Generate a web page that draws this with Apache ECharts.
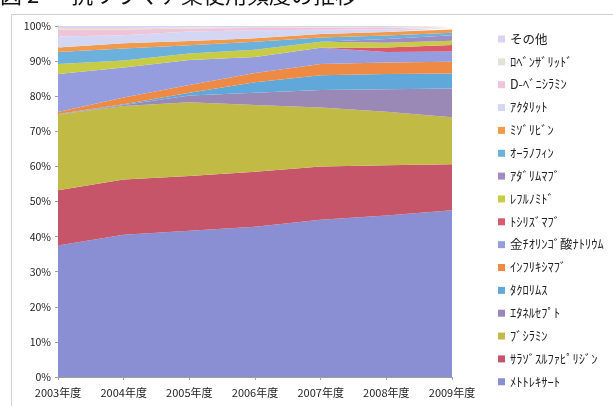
<!DOCTYPE html>
<html>
<head>
<meta charset="utf-8">
<script src="https://cdn.jsdelivr.net/npm/echarts@6/dist/echarts.min.js"></script>
<style>
html,body{margin:0;padding:0;background:#fff;}
#main{width:613px;height:406px;}
</style>
</head>
<body>
<div id="main"></div>
<script>
// Categories (fiscal years)
var years = ['2003年度','2004年度','2005年度','2006年度','2007年度','2008年度','2009年度'];

// Series names, stacked bottom -> top
var seriesNames = ['ﾒﾄﾄﾚｷｻｰﾄ','ｻﾗｿﾞｽﾙﾌｧﾋﾟﾘｼﾞﾝ','ﾌﾞｼﾗﾐﾝ','ｴﾀﾈﾙｾﾌﾟﾄ','ﾀｸﾛﾘﾑｽ','ｲﾝﾌﾘｷｼﾏﾌﾞ',
  '金ﾁｵﾘﾝｺﾞ酸ﾅﾄﾘｳﾑ','ﾄｼﾘｽﾞﾏﾌﾞ','ﾚﾌﾙﾉﾐﾄﾞ','ｱﾀﾞﾘﾑﾏﾌﾞ','ｵｰﾗﾉﾌｨﾝ','ﾐｿﾞﾘﾋﾞﾝ','ｱｸﾀﾘｯﾄ',
  'D-ﾍﾞﾆｼﾗﾐﾝ','ﾛﾍﾞﾝｻﾞﾘｯﾄﾞ','その他'];

// Share of use (%) per year
var mtx   = [37.5, 40.5, 41.7, 42.8, 44.8, 46.0, 47.5];
var sasp  = [15.7, 15.8, 15.6, 15.7, 15.2, 14.3, 13.1];
var buc   = [21.6, 20.9, 21.0, 19.0, 16.8, 15.3, 13.4];
var etn   = [0.0, 0.3, 1.9, 3.5, 5.0, 6.4, 8.2];
var tac   = [0.1, 0.2, 0.8, 3.0, 4.2, 4.3, 4.3];
var ifx   = [0.6, 1.9, 2.2, 2.6, 3.2, 3.3, 3.3];
var gst   = [10.8, 8.6, 7.1, 4.6, 4.6, 3.0, 2.9];
var tcz   = [0.0, 0.0, 0.0, 0.0, 0.0, 1.3, 1.9];
var lef   = [2.9, 2.0, 1.9, 2.0, 1.7, 1.3, 1.2];
var ada   = [0.0, 0.0, 0.0, 0.0, 0.0, 1.1, 1.6];
var aur   = [3.4, 3.4, 2.3, 2.3, 1.2, 1.0, 0.7];
var mzr   = [1.3, 1.5, 1.2, 1.0, 1.0, 1.0, 0.9];
var act   = [3.1, 2.3, 2.7, 2.3, 1.2, 0.7, 0.4];
var dpen  = [2.0, 1.6, 0.9, 0.6, 0.6, 0.5, 0.3];
var lob   = [0.4, 0.4, 0.3, 0.3, 0.2, 0.2, 0.1];
var other = [0.6, 0.6, 0.4, 0.3, 0.3, 0.3, 0.2];

var seriesData = [mtx, sasp, buc, etn, tac, ifx, gst, tcz, lef, ada, aur, mzr, act, dpen, lob, other];

var colors = ['#8a8fd3','#c7556a','#c1bb45','#9a88b6','#5fa8d9','#ef8a45',
  '#959ddf','#d85a6c','#c8cc44','#a08cc2','#6cb0de','#f29a4c','#d3d7f3',
  '#f0c4d8','#e2e1d6','#dcd3f1'];

var chart = echarts.init(document.getElementById('main'), null, {renderer:'canvas'});

var series = seriesNames.map(function(n, i){
  return {
    name: n,
    type: 'line',
    stack: 'total',
    data: seriesData[i],
    symbol: 'none',
    lineStyle: {width: 0},
    areaStyle: {opacity: 1, color: colors[i]},
    itemStyle: {color: colors[i]},
    emphasis: {disabled: true},
    animation: false
  };
});

var option = {
  animation: false,
  color: colors,
  textStyle: {fontFamily: '"Noto Sans CJK JP", "Noto Sans", sans-serif'},
  grid: {left: 58, right: 161, top: 26, bottom: 29, containLabel: false},
  graphic: [
    {type: 'rect', shape: {x: 11.5, y: 14.5, width: 620, height: 420},
     style: {fill: 'none', stroke: '#cfcfcf', lineWidth: 1}, silent: true},
    {type: 'text', left: 0, top: -16,
     style: {text: '図 2 ― 抗リウマチ薬使用頻度の推移', fill: '#111',
       font: '22px "Noto Sans CJK JP", sans-serif'}}
  ],
  legend: {
    orient: 'vertical',
    left: 493,
    top: 26,
    icon: 'rect',
    itemWidth: 7,
    itemHeight: 7,
    itemGap: 6.85,
    data: seriesNames.slice().reverse(),
    textStyle: {fontSize: 12.5, color: '#222', lineHeight: 16,
      fontFamily: '"Noto Sans CJK JP", sans-serif'}
  },
  xAxis: {
    type: 'category',
    data: years,
    boundaryGap: false,
    axisLine: {show: true, lineStyle: {color: '#a0a0a0'}},
    axisTick: {show: true, length: 3, lineStyle: {color: '#a0a0a0'}},
    axisLabel: {color: '#222', fontSize: 11, margin: 10}
  },
  yAxis: {
    type: 'value',
    min: 0,
    max: 100,
    interval: 10,
    axisLine: {show: true, lineStyle: {color: '#a0a0a0'}},
    axisTick: {show: true, length: 3, lineStyle: {color: '#a0a0a0'}},
    splitLine: {show: false},
    axisLabel: {formatter: '{value}%', color: '#222', fontSize: 10.5, margin: 7}
  },
  series: series
};
chart.setOption(option);
</script>
</body>
</html>
